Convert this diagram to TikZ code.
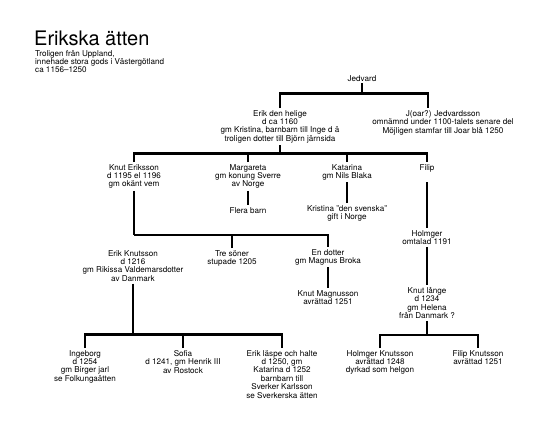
\documentclass[tikz,border=0pt]{standalone}
\usepackage{fontspec}
\setmainfont{TeX Gyre Heros}
\usepackage{tikz}
\usetikzlibrary{positioning,calc}

\begin{document}
\begin{tikzpicture}[x=1pt,y=-1pt]
    \tikzstyle{person}=[align=center, inner sep=2pt, anchor=north, font=\fontsize{8.1}{8.4}\selectfont]
    \tikzstyle{tree}=[line width=2.6pt]
    \useasboundingbox (0,0) rectangle (541,423);
    % title
    \node[anchor=north west, inner sep=0, font=\fontsize{20}{22}\selectfont] (title) at (34,31) {Erikska ätten};
    \node[anchor=north west, inner sep=0, align=left, font=\fontsize{8.1}{8.3}\selectfont] (sub) at (35,50)
      {Troligen från Uppland,\\innehade stora gods i Västergötland\\ca 1156–1250};
    % generations
    \node[person] (jedvard) at (362,73) {Jedvard};
    \node[person] (erik) at (280,108) {Erik den helige\\d ca 1160\\gm Kristina, barnbarn till Inge d ä\\troligen dotter till Björn järnsida};
    \node[person] (joar) at (443,108) {J(oar?) Jedvardsson\\omnämnd under 1100-talets senare del\\Möjligen stamfar till Joar blå 1250};
    \node[person] (knut) at (134,162) {Knut Eriksson\\d 1195 el 1196\\gm okänt vem};
    \node[person] (margareta) at (248,162) {Margareta\\gm konung Sverre\\av Norge};
    \node[person] (katarina) at (347,162) {Katarina\\gm Nils Blaka};
    \node[person] (filip) at (427,162) {Filip};
    \node[person] (flera) at (248,205) {Flera barn};
    \node[person] (kristina) at (347,203) {Kristina "den svenska"\\gift i Norge};
    \node[person] (holmger) at (427,228) {Holmger\\omtalad 1191};
    \node[person] (eriknut) at (133,248) {Erik Knutsson\\d 1216\\gm Rikissa Valdemarsdotter\\av Danmark};
    \node[person] (tresoner) at (232,248) {Tre söner\\stupade 1205};
    \node[person] (dotter) at (328,247) {En dotter\\gm Magnus Broka};
    \node[person] (knutmag) at (328,288) {Knut Magnusson\\avrättad 1251};
    \node[person] (knutlange) at (427,285) {Knut långe\\d 1234\\gm Helena\\från Danmark ?};
    \node[person] (ingeborg) at (85,348) {Ingeborg\\d 1254\\gm Birger jarl\\se Folkungaätten};
    \node[person] (sofia) at (183,348) {Sofia\\d 1241, gm Henrik III\\av Rostock};
    \node[person] (eriklaspe) at (282,348) {Erik läspe och halte\\d 1250, gm\\Katarina d 1252\\barnbarn till\\Sverker Karlsson\\se Sverkerska ätten};
    \node[person] (holmgerk) at (380,348) {Holmger Knutsson\\avrättad 1248\\dyrkad som helgon};
    \node[person] (filipk) at (478,348) {Filip Knutsson\\avrättad 1251};
    % lines
    \draw[tree] (jedvard.south) -- ++(0,10) coordinate (b0);
    \draw[tree] (erik.north) |- (b0) -| ([xshift=-15pt]joar.north);
    \draw[tree] (erik.south) -- ++(0,8) coordinate (b1);
    \draw[tree] (knut.north) |- (b1) -| (filip.north);
    \draw[tree] (margareta.north) -- (margareta.north |- b1);
    \draw[tree] (katarina.north) -- (katarina.north |- b1);
    \draw[tree] (margareta) -- (flera);
    \draw[tree] (katarina) -- (kristina);
    \draw[tree] ([yshift=-8pt]filip.south) -- (holmger);
    \draw[tree] (holmger) -- (knutlange);
    \draw[tree] (knutlange.south) -- ++(0,14) coordinate (b4);
    \draw[tree] (holmgerk.north) |- (b4) -| (filipk.north);
    \draw[tree] (knut.south) -- ++(0,44) coordinate (b2);
    \draw[tree] (b2) -| (dotter.north);
    \draw[tree] (tresoner.north) -- (tresoner.north |- b2);
    \draw[tree] (dotter) -- (knutmag);
    \draw[tree] (eriknut.south) -- ++(0,51) coordinate (b3);
    \draw[tree] (ingeborg.north) |- (b3) -| (eriklaspe.north);
    \draw[tree] (sofia.north) -- (sofia.north |- b3);
\end{tikzpicture}
\end{document}
